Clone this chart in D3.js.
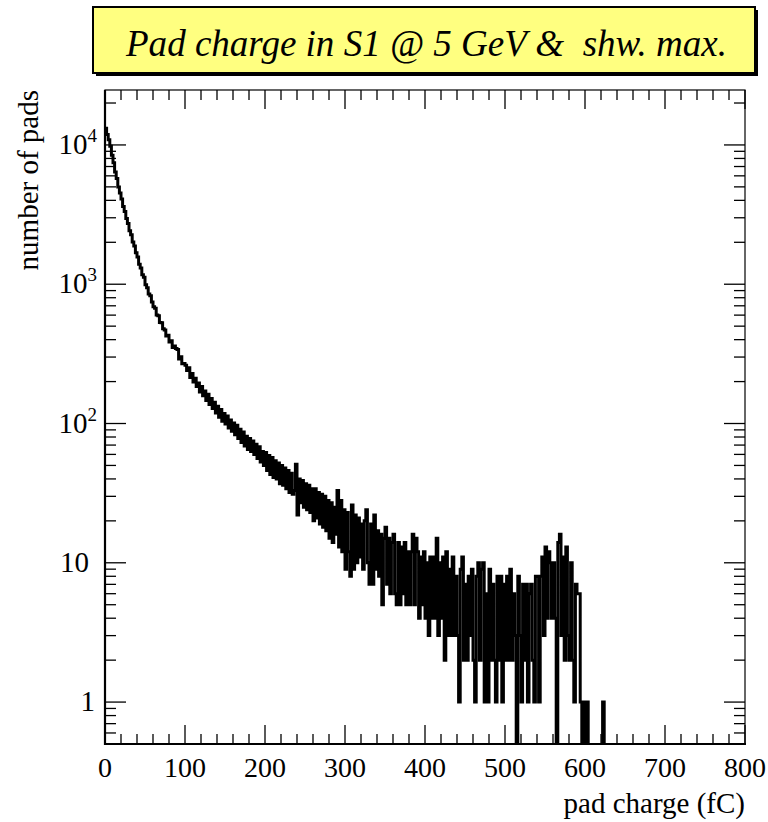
<!DOCTYPE html>
<html>
<head>
<meta charset="utf-8">
<script src="https://cdn.jsdelivr.net/npm/d3@7/dist/d3.min.js"></script>
<style>
body { margin: 0; background: #fff; }
</style>
</head>
<body>
<script>
// histogram: pad charge, bins of 2 fC starting at 0
var binWidth = 2;
var counts = [
  13200, 11900, 10900, 9800, 8450, 7450, 6400, 5750, 4980, 4520,
  4090, 3620, 3330, 2960, 2730, 2420, 2270, 2010, 1880, 1680,
  1570, 1390, 1310, 1170, 1120, 990, 945, 850, 825, 745,
  690, 672, 600, 595, 532, 528, 478, 470, 425, 430,
  385, 392, 352, 360, 345, 340, 290, 301, 268, 270,
  262, 240, 251, 214, 229, 199, 211, 184, 195, 168,
  184, 158, 171, 146, 162, 137, 151, 128, 142, 119,
  133, 111, 126, 104, 118, 99, 113, 93, 106, 88,
  101, 83, 97, 78, 91, 73, 87, 69, 81, 65,
  78, 63, 75, 60, 71, 56, 68, 53, 63, 50,
  62, 46, 59, 43, 57, 41, 54, 40, 52, 37,
  50, 36, 48, 34, 46, 32, 44, 31, 33, 51,
  22, 40, 27, 39, 25, 37, 24, 36, 23, 34,
  20, 34, 21, 32, 19, 31, 18, 30, 17, 28,
  15, 27, 14, 25, 16, 33, 13, 28, 12, 24,
  9, 23, 12, 8, 26, 9, 22, 10, 21, 11,
  19, 9, 20, 24, 10, 7, 19, 7, 22, 9,
  17, 8, 16, 5, 15, 18, 7, 15, 6, 14,
  16, 6, 5, 14, 5, 13, 6, 14, 5, 12,
  5, 12, 16, 5, 15, 12, 4, 11, 5, 12,
  4, 10, 3, 11, 4, 11, 4, 15, 3, 10,
  4, 11, 2, 12, 3, 9, 3, 11, 3, 8,
  3, 1, 9, 11, 2, 7, 2, 8, 3, 9,
  2, 1, 8, 10, 2, 9, 10, 1, 6, 1,
  9, 2, 7, 2, 1, 8, 2, 8, 1, 7,
  2, 8, 2, 9, 2, 6, 3, 0, 8, 3,
  1, 7, 2, 7, 1, 6, 7, 2, 1, 8,
  8, 1, 8, 11, 3, 13, 4, 12, 10, 4,
  10, 4, 0, 14, 16, 3, 11, 2, 13, 3,
  2, 10, 2, 1, 7, 6, 6, 1, 0, 1,
  0, 1, 0, 0, 0, 0, 0, 0, 0, 0, 0, 1, 0
];

var xMajor = [0, 100, 200, 300, 400, 500, 600, 700, 800];
var yMajor = [1, 10, 100, 1000, 10000];
var yExp = ["", "", "2", "3", "4"];
var yBase = ["1", "10", "10", "10", "10"];
var titleText = "Pad charge in S1 @ 5 GeV &  shw. max.";
var xTitle = "pad charge (fC)";
var yTitle = "number of pads";

var W = 768, H = 822;
var L = 105, R = 745, T = 90, B = 744;
var serif = "'Liberation Serif', 'Times New Roman', serif";

var svg = d3.select("body").append("svg").attr("width", W).attr("height", H)
  .attr("font-family", serif);

var x = d3.scaleLinear().domain([0, 800]).range([L, R]);
var y = d3.scaleLog().domain([0.5, 24800]).range([B, T]);

// minor ticks
var xMinor = d3.range(0, 801, 20).filter(function(v) { return v % 100 != 0; });
var yMinor = [];
[0.1, 1, 10, 100, 1000, 10000].forEach(function(d) {
  for (var k = 2; k <= 9; k++) {
    var v = d * k;
    if (v >= 0.5 && v <= 24800) yMinor.push(v);
  }
});

// histogram
svg.append("clipPath").attr("id", "clip")
  .append("rect").attr("x", L).attr("y", T).attr("width", R - L).attr("height", B - T);

var pts = counts.map(function(c, i) { return [i * binWidth, c]; });
pts.push([counts.length * binWidth, 0]);
pts.push([800, 0]);

var line = d3.line()
  .x(function(d) { return x(d[0]); })
  .y(function(d) { return d[1] > 0 ? y(d[1]) : B + 2; })
  .curve(d3.curveStepAfter);

svg.append("path")
  .attr("clip-path", "url(#clip)")
  .attr("d", line(pts))
  .attr("fill", "none")
  .attr("stroke", "#000")
  .attr("stroke-width", 3);

// frame
svg.append("rect").attr("x", L).attr("y", T).attr("width", R - L).attr("height", B - T)
  .attr("fill", "none").attr("stroke", "#000").attr("stroke-width", 1.2);
svg.append("line").attr("x1", L).attr("x2", L).attr("y1", T).attr("y2", B + 1)
  .attr("stroke", "#000").attr("stroke-width", 2.2);
svg.append("line").attr("x1", L - 1).attr("x2", R + 1).attr("y1", B).attr("y2", B)
  .attr("stroke", "#000").attr("stroke-width", 2.2);

var ticks = svg.append("g").attr("stroke", "#000").attr("stroke-width", 1.3);

// x ticks, bottom and top
xMajor.forEach(function(v) {
  ticks.append("line").attr("x1", x(v)).attr("x2", x(v)).attr("y1", B).attr("y2", B - 19);
  ticks.append("line").attr("x1", x(v)).attr("x2", x(v)).attr("y1", T).attr("y2", T + 19);
});
xMinor.forEach(function(v) {
  ticks.append("line").attr("x1", x(v)).attr("x2", x(v)).attr("y1", B).attr("y2", B - 10);
  ticks.append("line").attr("x1", x(v)).attr("x2", x(v)).attr("y1", T).attr("y2", T + 10);
});

// y ticks, left and right
yMajor.forEach(function(v) {
  ticks.append("line").attr("x1", L).attr("x2", L + 21).attr("y1", y(v)).attr("y2", y(v));
  ticks.append("line").attr("x1", R).attr("x2", R - 21).attr("y1", y(v)).attr("y2", y(v));
});
yMinor.forEach(function(v) {
  ticks.append("line").attr("x1", L).attr("x2", L + 11).attr("y1", y(v)).attr("y2", y(v));
  ticks.append("line").attr("x1", R).attr("x2", R - 11).attr("y1", y(v)).attr("y2", y(v));
});

// x tick labels
svg.append("g").selectAll("text").data(xMajor).enter().append("text")
  .attr("x", function(d) { return x(d); })
  .attr("y", 777)
  .attr("text-anchor", "middle")
  .attr("font-size", 28)
  .text(function(d) { return d; });

// y tick labels
yMajor.forEach(function(v, i) {
  var t = svg.append("text")
    .attr("x", yExp[i] ? 97 : (v == 1 ? 95 : 89))
    .attr("y", y(v) + 9)
    .attr("text-anchor", "end")
    .attr("font-size", 29);
  t.append("tspan").text(yBase[i]);
  if (yExp[i]) {
    t.append("tspan").attr("font-size", 19).attr("dy", -12).text(yExp[i]);
  }
});

// axis titles
svg.append("text")
  .attr("x", R).attr("y", 813)
  .attr("text-anchor", "end")
  .attr("font-size", 29)
  .text(xTitle);

svg.append("text")
  .attr("transform", "translate(38," + T + ") rotate(-90)")
  .attr("text-anchor", "end")
  .attr("font-size", 29)
  .text(yTitle);

// title box
svg.append("rect").attr("x", 96).attr("y", 10).attr("width", 662).attr("height", 66).attr("fill", "#000");
svg.append("rect").attr("x", 93).attr("y", 7).attr("width", 662).attr("height", 66)
  .attr("fill", "#ffff80").attr("stroke", "#000").attr("stroke-width", 2);
svg.append("text")
  .attr("x", 126).attr("y", 56)
  .attr("font-size", 37)
  .attr("font-style", "italic")
  .attr("textLength", 601)
  .attr("lengthAdjust", "spacingAndGlyphs")
  .style("white-space", "pre")
  .text(titleText);
</script>
</body>
</html>
